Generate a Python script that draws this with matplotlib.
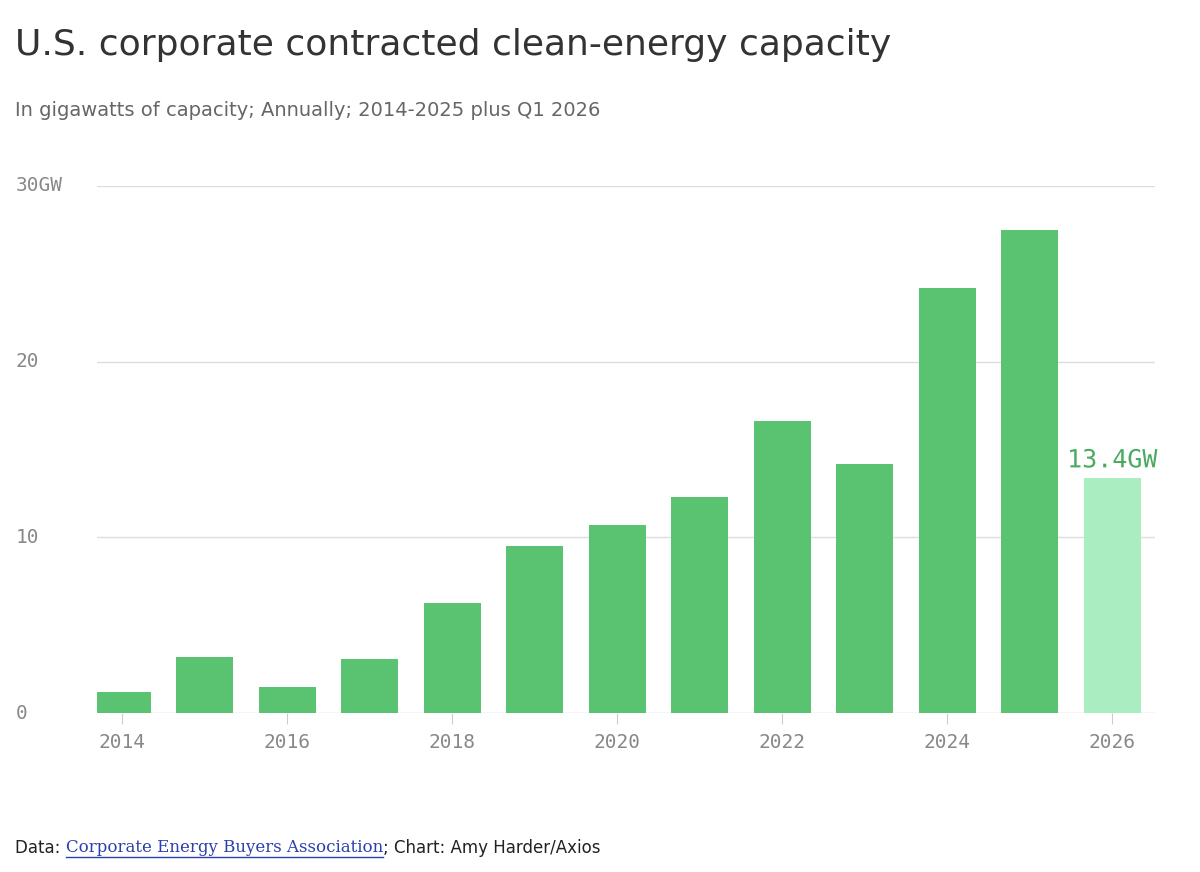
import matplotlib.pyplot as plt
import matplotlib.patheffects as pe

years = [2014, 2015, 2016, 2017, 2018, 2019, 2020, 2021, 2022, 2023, 2024, 2025, 2026]
capacity = [1.2, 3.2, 1.5, 3.1, 6.3, 9.5, 10.7, 12.3, 16.6, 14.2, 24.2, 27.5, 13.4]
yticks = [0, 10, 20, 30]
ytick_labels = ['0', '10', '20', '30GW']

colors = ['#5ac372'] * (len(years) - 1) + ['#aaedc0']

fig = plt.figure(figsize=(12, 8.72), dpi=100)
ax = fig.add_axes([0.081, 0.182, 0.8815, 0.605])

ax.bar(years, capacity, width=0.69, color=colors, zorder=3)
ax.set_ylim(0, 30)
ax.set_xlim(2013.697, 2026.52)

for y in yticks:
    ax.axhline(y, color='#cccccc' if y == 0 else '#dddddd', lw=1, zorder=1)
ax.set_yticks([])
for y, lab in zip(yticks, ytick_labels):
    ax.text(-0.077, y, lab, transform=ax.get_yaxis_transform(), ha='left', va='center',
            fontsize=14, family='DejaVu Sans Mono', color='#888888')

ax.set_xticks(range(2014, 2027, 2))
ax.tick_params(axis='x', length=8, color='#cccccc', labelsize=14, labelcolor='#888888', pad=6)
for t in ax.get_xticklabels():
    t.set_family('DejaVu Sans Mono')
for s in ax.spines.values():
    s.set_visible(False)

ax.text(years[-1], capacity[-1] + 0.3, '13.4GW', ha='center', va='bottom', fontsize=18,
        family='DejaVu Sans Mono', color='#4aaa60',
        path_effects=[pe.withStroke(linewidth=4, foreground='white')], zorder=5)

fig.text(0.0125, 0.948, 'U.S. corporate contracted clean-energy capacity', fontsize=26,
         color='#333333', va='center')
fig.text(0.0125, 0.873, 'In gigawatts of capacity; Annually; 2014-2025 plus Q1 2026', fontsize=14,
         color='#666666', va='center')

t1 = fig.text(0.0125, 0.028, 'Data: ', fontsize=12, color='#222222', va='center')
fig.canvas.draw()
bb = t1.get_window_extent()
x = bb.x1 / fig.bbox.width
t2 = fig.text(x, 0.028, 'Corporate Energy Buyers Association', fontsize=12, color='#2a3fb0',
              family='DejaVu Serif', va='center')
fig.canvas.draw()
bb2 = t2.get_window_extent()
fig.lines.append(plt.Line2D([bb2.x0 / fig.bbox.width, bb2.x1 / fig.bbox.width], [0.017, 0.017],
                            transform=fig.transFigure, color='#2a3fb0', lw=1))
fig.text(bb2.x1 / fig.bbox.width, 0.028, '; Chart: Amy Harder/Axios', fontsize=12,
         color='#222222', va='center')

fig.savefig('out.png', dpi=100, facecolor='white')
